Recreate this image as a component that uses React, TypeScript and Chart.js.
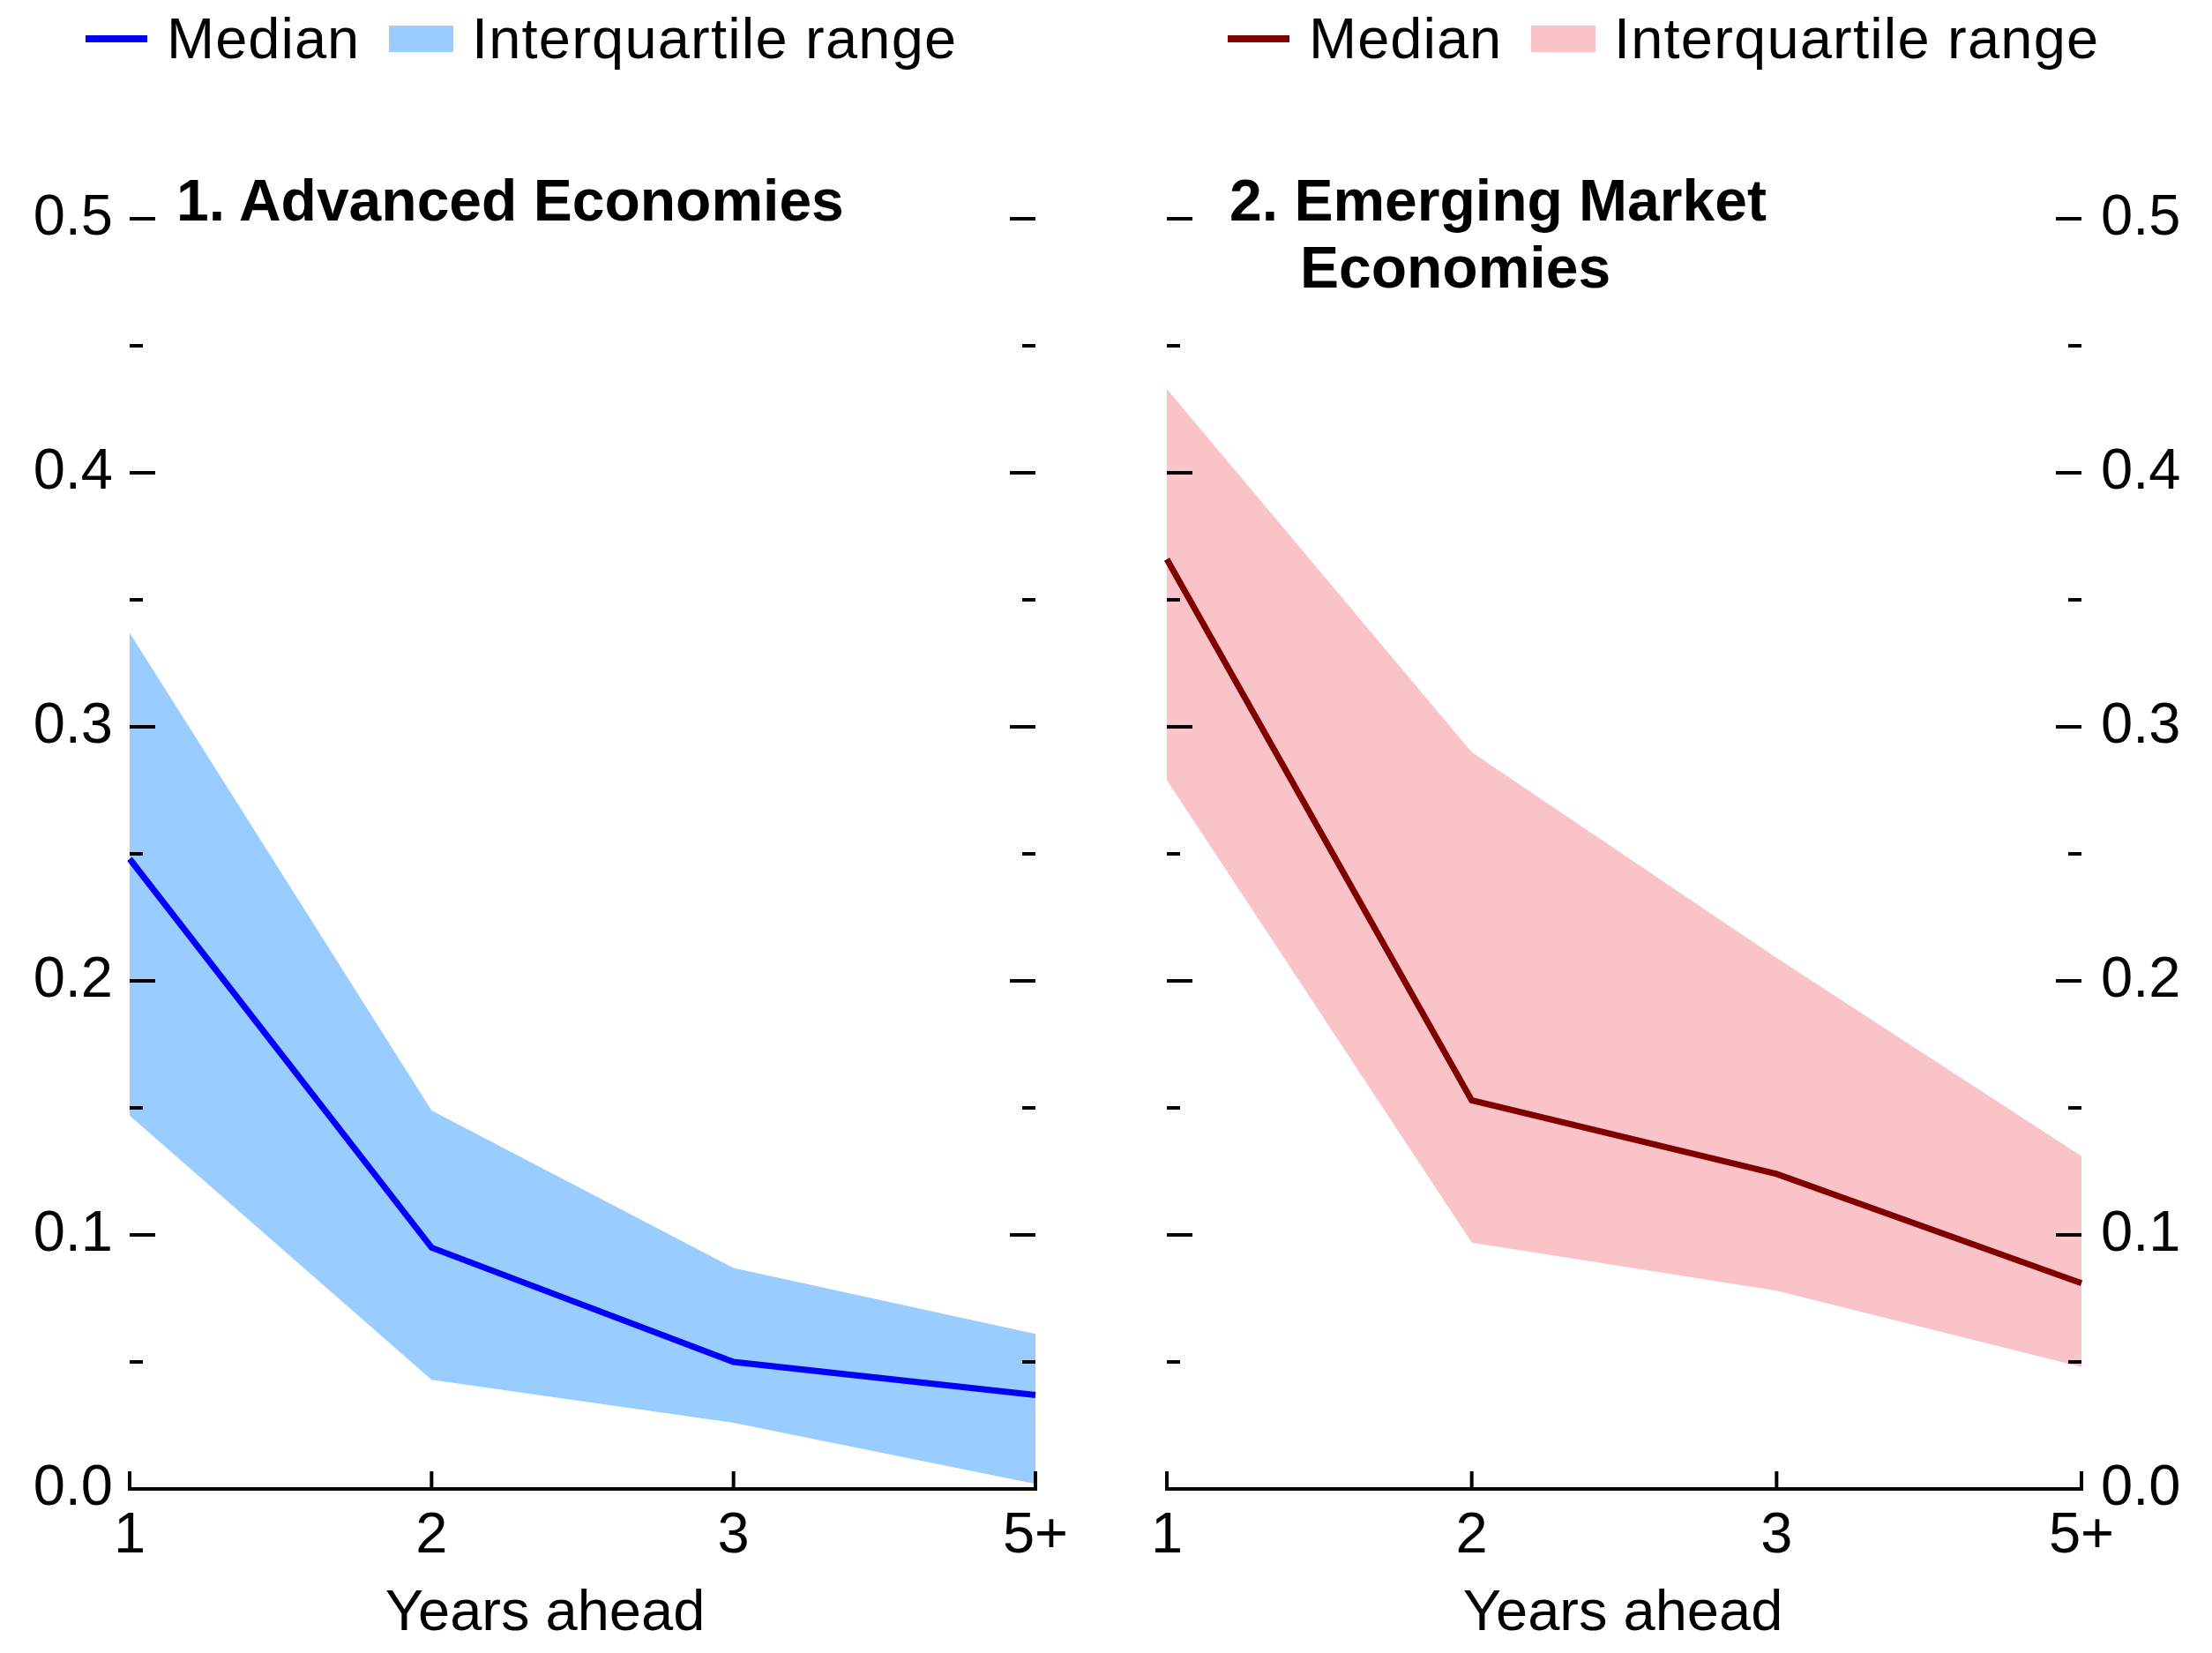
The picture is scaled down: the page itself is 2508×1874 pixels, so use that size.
import React, { useEffect, useRef } from 'react';
import { Chart, registerables } from 'chart.js';

Chart.register(...registerables);

// ---- Data ----
const categories = ['1', '2', '3', '5+'];

const aeMedian = [0.248, 0.095, 0.050, 0.037];
const aeUpper = [0.337, 0.149, 0.087, 0.061];
const aeLower = [0.147, 0.043, 0.026, 0.002];

const emeMedian = [0.366, 0.153, 0.124, 0.081];
const emeUpper = [0.433, 0.290, 0.209, 0.131];
const emeLower = [0.279, 0.097, 0.078, 0.048];

const yMin = 0;
const yMax = 0.5;
const yStep = 0.1;
const yMinorStep = 0.05;

const xAxisTitle = 'Years ahead';
const legendMedian = 'Median';
const legendRange = 'Interquartile range';
const titleAE = '1. Advanced Economies';
const titleEME1 = '2. Emerging Market';
const titleEME2 = 'Economies';

// ---- Styles ----
const FONT = "'Liberation Sans', Arial, Helvetica, sans-serif";
const FS = 65;
const AE_LINE = '#0000ff';
const AE_FILL = '#99ccff';
const EME_LINE = '#800000';
const EME_FILL = '#f9c3c7';

const insideTicks = {
  id: 'insideTicks',
  afterDatasetsDraw(chart: any) {
    const { ctx, chartArea, scales } = chart;
    const y = scales.y;
    const x = scales.x;
    ctx.save();
    ctx.strokeStyle = '#000';
    ctx.lineWidth = 4;
    ctx.lineCap = 'butt';
    const n = Math.round((yMax - yMin) / yMinorStep);
    for (let i = 1; i <= n; i++) {
      const v = yMin + i * yMinorStep;
      const py = Math.round(y.getPixelForValue(v));
      const len = i % 2 === 0 ? 29 : 15;
      ctx.beginPath();
      ctx.moveTo(chartArea.left, py);
      ctx.lineTo(chartArea.left + len, py);
      ctx.moveTo(chartArea.right - len, py);
      ctx.lineTo(chartArea.right, py);
      ctx.stroke();
    }
    categories.forEach((_, i) => {
      const px = x.getPixelForValue(i);
      ctx.beginPath();
      ctx.moveTo(px, chartArea.bottom + 2);
      ctx.lineTo(px, chartArea.bottom - 20);
      ctx.stroke();
    });
    ctx.restore();
  },
};

function makeConfig(side: 'left' | 'right', median: number[], upper: number[], lower: number[], lineColor: string, fillColor: string): any {
  return {
    type: 'line',
    data: {
      labels: categories,
      datasets: [
        {
          label: 'Median',
          data: median,
          borderColor: lineColor,
          backgroundColor: lineColor,
          borderWidth: 7,
          pointRadius: 0,
          fill: false,
          tension: 0,
          clip: false,
        },
        {
          label: 'Upper quartile',
          data: upper,
          borderWidth: 0,
          borderColor: 'rgba(0,0,0,0)',
          backgroundColor: fillColor,
          pointRadius: 0,
          fill: '+1',
          tension: 0,
        },
        {
          label: 'Lower quartile',
          data: lower,
          borderWidth: 0,
          borderColor: 'rgba(0,0,0,0)',
          backgroundColor: fillColor,
          pointRadius: 0,
          fill: false,
          tension: 0,
        },
      ],
    },
    plugins: [insideTicks],
    options: {
      responsive: false,
      maintainAspectRatio: false,
      animation: false,
      devicePixelRatio: 1,
      events: [],
      layout: {
        padding: side === 'left'
          ? { left: 0, right: 80, top: 248, bottom: 0 }
          : { left: 69, right: 0, top: 248, bottom: 0 },
      },
      plugins: {
        legend: { display: false },
        tooltip: { enabled: false },
        title: { display: false },
      },
      scales: {
        x: {
          type: 'category',
          offset: false,
          grid: { display: false, drawTicks: false },
          border: { display: true, color: '#000', width: 4 },
          ticks: {
            color: '#000',
            font: { family: FONT, size: FS },
            padding: 15,
            maxRotation: 0,
            autoSkip: false,
          },
          title: { display: false },
          afterFit: (s: any) => { s.height = 186; },
        },
        y: {
          position: side,
          min: yMin,
          max: yMax,
          grid: { display: false, drawTicks: false },
          border: { display: false },
          ticks: {
            stepSize: yStep,
            color: '#000',
            font: { family: FONT, size: FS },
            padding: side === 'left' ? 19 : 22,
            callback: (v: any) => Number(v).toFixed(1),
          },
          afterFit: (s: any) => { s.width = side === 'left' ? 147 : 148; },
        },
      },
    },
  };
}

function Panel({ side, median, upper, lower, lineColor, fillColor, left }: any) {
  const ref = useRef<HTMLCanvasElement | null>(null);
  useEffect(() => {
    if (!ref.current) return;
    const chart = new Chart(ref.current, makeConfig(side, median, upper, lower, lineColor, fillColor));
    return () => chart.destroy();
  }, []);
  return (
    <canvas
      ref={ref}
      width={1254}
      height={1874}
      style={{ position: 'absolute', left, top: 0, width: 1254, height: 1874 }}
    />
  );
}

// text placed by baseline (Liberation Sans: baseline = top + ~0.846*size when line-height = size)
function Txt({ x, baseline, children, bold, center, size, spacing }: any) {
  const fs = size || FS;
  return (
    <div
      style={{
        position: 'absolute',
        left: center ? x - 600 : x,
        width: center ? 1200 : undefined,
        textAlign: center ? 'center' : 'left',
        top: baseline - Math.round(fs * 0.846),
        font: `${bold ? 'bold ' : ''}${fs}px ${FONT}`,
        lineHeight: `${fs}px`,
        whiteSpace: 'nowrap',
        color: '#000',
        letterSpacing: spacing || '0px',
      }}
    >
      {children}
    </div>
  );
}

function Legend({ x0, lineColor, fillColor }: any) {
  return (
    <>
      <div style={{ position: 'absolute', left: x0, top: 40, width: 70, height: 8, background: lineColor }} />
      <Txt x={x0 + 92} baseline={66} spacing="1px">{legendMedian}</Txt>
      <div style={{ position: 'absolute', left: x0 + 344, top: 29, width: 73, height: 30, background: fillColor }} />
      <Txt x={x0 + 438} baseline={66} spacing="1.2px">{legendRange}</Txt>
    </>
  );
}

export default function App() {
  return (
    <div style={{ position: 'absolute', left: 0, top: 0, width: 2508, height: 1874, background: '#fff', overflow: 'hidden' }}>
      <Panel side="left" median={aeMedian} upper={aeUpper} lower={aeLower} lineColor={AE_LINE} fillColor={AE_FILL} left={0} />
      <Panel side="right" median={emeMedian} upper={emeUpper} lower={emeLower} lineColor={EME_LINE} fillColor={EME_FILL} left={1254} />
      <Legend x0={97} lineColor={AE_LINE} fillColor={AE_FILL} />
      <Legend x0={1392} lineColor={EME_LINE} fillColor={EME_FILL} />
      <Txt x={200} baseline={250} bold size={66}>{titleAE}</Txt>
      <Txt x={1394} baseline={250} bold size={66}>{titleEME1}</Txt>
      <Txt x={1474} baseline={326} bold size={66}>{titleEME2}</Txt>
      <Txt x={618} baseline={1848} center>{xAxisTitle}</Txt>
      <Txt x={1840} baseline={1848} center>{xAxisTitle}</Txt>
    </div>
  );
}
